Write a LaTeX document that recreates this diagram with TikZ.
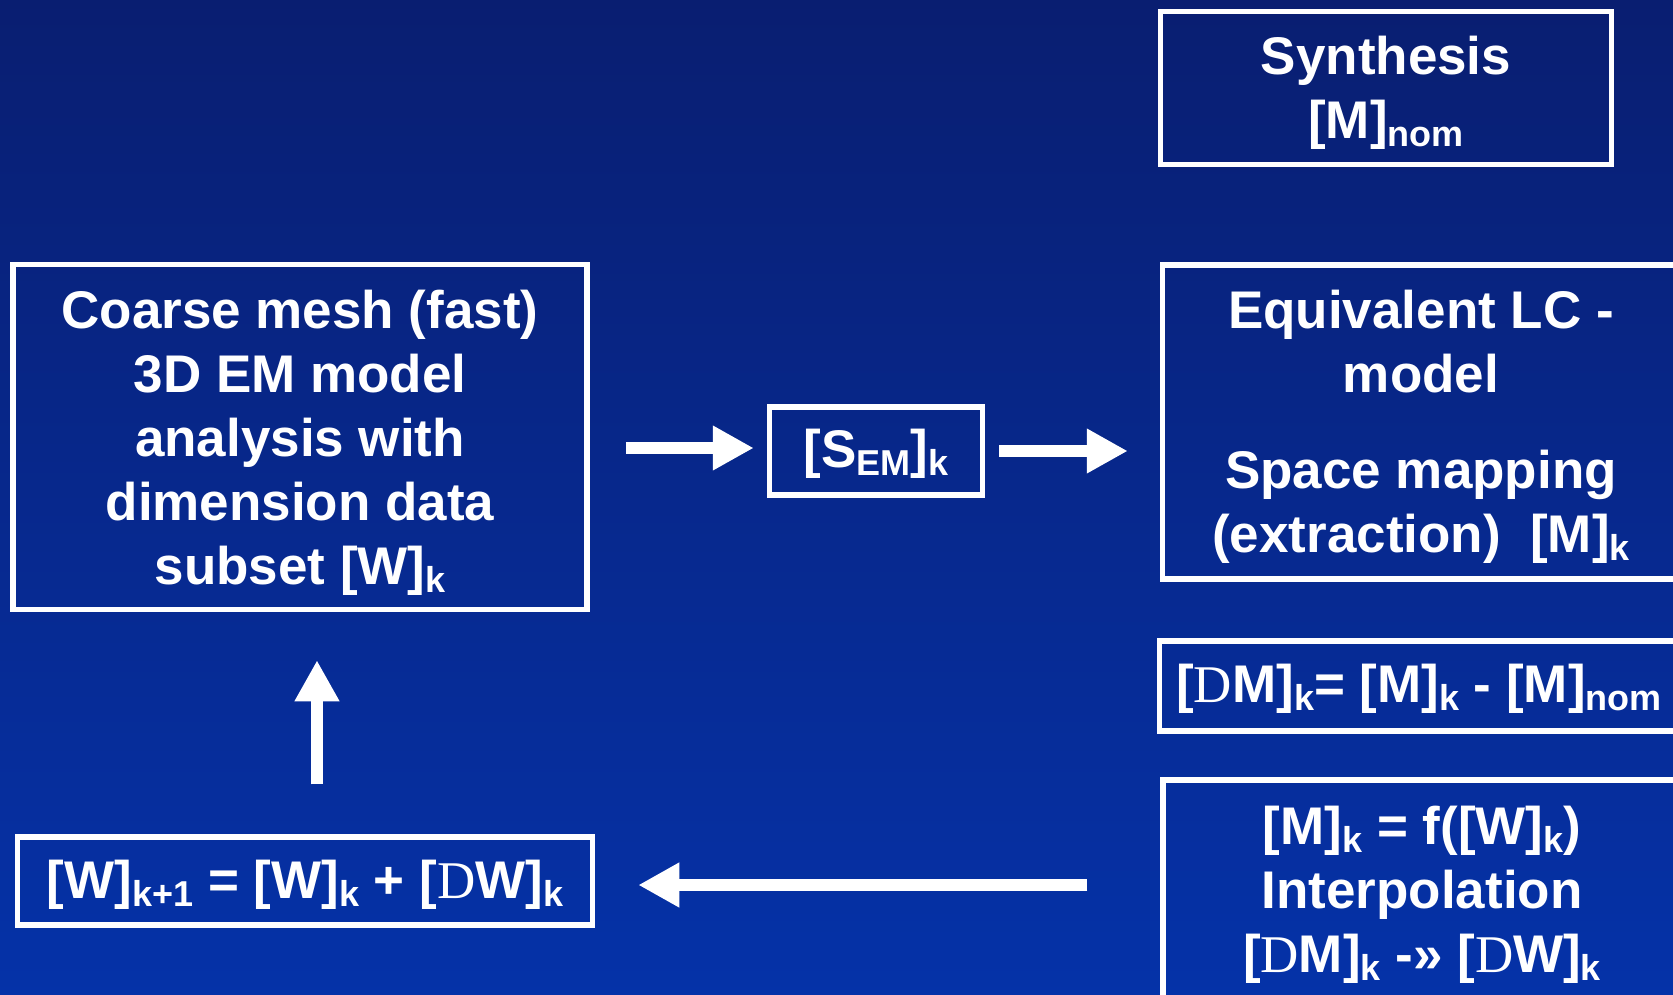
\documentclass[tikz,border=0pt]{standalone}
\usepackage{fontspec}
\setmainfont{Liberation Sans}
\newfontfamily\serifD{Liberation Serif}
\usetikzlibrary{arrows.meta}
\definecolor{bgtop}{RGB}{9,30,113}
\definecolor{bgbot}{RGB}{5,50,168}
\newcommand{\lowr}[1]{\raisebox{-8pt}{\fontsize{36}{36}\selectfont #1}}
\newcommand{\Dd}{{\serifD\mdseries D}}
\tikzset{
  box/.style={draw=white, line width=5.5pt, inner sep=0pt},
  txt/.style={inner sep=0pt, align=center, text=white,
    font=\fontsize{53}{64}\selectfont\bfseries},
  arr/.style={draw=white, line width=12pt, -{Triangle[length=41pt,width=42pt]}}
}
\begin{document}
\begin{tikzpicture}[x=1pt,y=-1pt]
\useasboundingbox (0,0) rectangle (1673,995);
\clip (0,0) rectangle (1673,995);
\shade[top color=bgtop, bottom color=bgbot] (0,0) rectangle (1673,995);
% boxes
\node[box, minimum width=451pt, minimum height=153pt] (synth) at (1386,88) {};
\node[box, minimum width=574pt, minimum height=345pt] (coarse) at (300,437) {};
\node[box, minimum width=213pt, minimum height=88pt] (sem) at (876,451) {};
\node[box, minimum width=517pt, minimum height=314pt] (lc) at (1421,422) {};
\node[box, minimum width=519pt, minimum height=90pt] (dm) at (1419,686) {};
\node[box, minimum width=518pt, minimum height=220pt] (interp) at (1422,890) {};
\node[box, minimum width=575pt, minimum height=88pt] (wnext) at (305,881) {};
% texts
\node[txt, yshift=-5pt] (synth-t) at (synth) {Synthesis\\{[M]}\lowr{nom}};
\node[txt, yshift=-6pt] (coarse-t) at (coarse) {Coarse mesh (fast)\\3D EM model\\analysis with\\dimension data\\subset [W]\lowr{k}};
\node[txt, yshift=-3pt] (sem-t) at (sem) {[S\lowr{EM}]\lowr{k}};
\node[txt, yshift=-5pt] (lc-t) at (lc) {Equivalent LC -\\model\\[32pt]Space mapping\\(extraction)\ \ [M]\lowr{k}};
\node[txt, yshift=-3pt] (dm-t) at (dm) {[\Dd M]\lowr{k}= [M]\lowr{k} - [M]\lowr{nom}};
\node[txt, yshift=-5pt] (interp-t) at (interp) {[M]\lowr{k} = f([W]\lowr{k})\\Interpolation\\{[\Dd M]}\lowr{k} -» [\Dd W]\lowr{k}};
\node[txt, yshift=-4pt] (wnext-t) at (wnext) {[W]\lowr{k+1} = [W]\lowr{k} + [\Dd W]\lowr{k}};
% arrows
\draw[arr, shorten <=36pt, shorten >=13pt] ([yshift=3pt]coarse.east |- sem.west) -- ([yshift=3pt]sem.west);
\draw[arr, shorten <=14pt, shorten >=32pt] (sem.east) -- (lc.west |- sem.east);
\draw[arr, shorten <=50pt, shorten >=48pt] ([xshift=12pt]wnext.north) -- ([xshift=12pt]wnext.north |- coarse.south);
\draw[arr, shorten <=73pt, shorten >=43pt] ([yshift=-4pt]interp.west |- wnext.east) -- ([yshift=-4pt]wnext.east);
\end{tikzpicture}
\end{document}
